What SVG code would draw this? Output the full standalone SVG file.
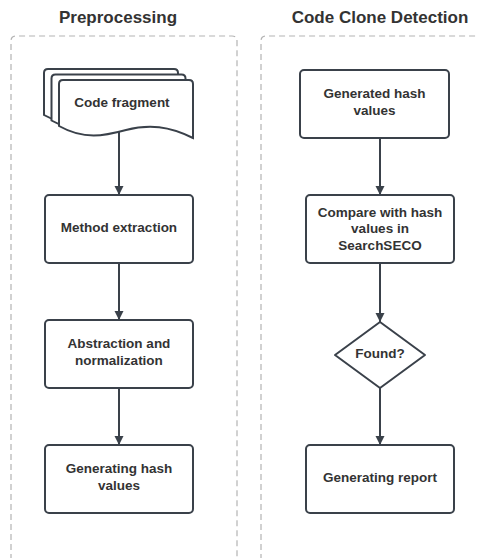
<svg xmlns="http://www.w3.org/2000/svg" width="478" height="558" viewBox="0 0 478 558">
<style>
.bg{fill:#ffffff}
.lane{fill:none;stroke:#b3b3b3;stroke-width:1.2;stroke-dasharray:6 4}
.title{font-family:"Liberation Sans",Arial,sans-serif;font-weight:bold;font-size:17px;fill:#333333;text-anchor:middle}
.box{fill:#ffffff;stroke:#3a414a;stroke-width:2}
.lbl{font-family:"Liberation Sans",Arial,sans-serif;font-weight:bold;font-size:13.5px;fill:#333333;text-anchor:middle}
.edge{fill:none;stroke:#3a414a;stroke-width:2}
</style>
<defs>
<marker id="arr" viewBox="0 0 10 10" refX="10" refY="5" markerWidth="4.5" markerHeight="5" markerUnits="strokeWidth" orient="auto">
<path d="M0,0 L10,5 L0,10 Z" fill="#3a414a"/>
</marker>
<path id="doc" d="M0,4 Q0,0 4,0 H130 Q134,0 134,4 V58 C110,46 90,44 67,50 C45,56 25,60 0,46 Z"/>
</defs>
<rect class="bg" x="0" y="0" width="478" height="558"/>
<g id="lane-preprocessing">
<path class="lane" d="M11,570 V41 Q11,36 16,36 H232 Q237,36 237,41 V570"/>
<text class="title" x="118" y="23">Preprocessing</text>
</g>
<g id="lane-detection">
<path class="lane" d="M261,570 V41 Q261,36 266,36 H490"/>
<text class="title" x="380" y="23">Code Clone Detection</text>
</g>
<g id="connectors">
<line class="edge" x1="119" y1="131" x2="119" y2="195" marker-end="url(#arr)"/>
<line class="edge" x1="119" y1="263" x2="119" y2="320" marker-end="url(#arr)"/>
<line class="edge" x1="119" y1="388" x2="119" y2="445" marker-end="url(#arr)"/>
<line class="edge" x1="380" y1="138" x2="380" y2="195" marker-end="url(#arr)"/>
<line class="edge" x1="380" y1="263" x2="380" y2="322" marker-end="url(#arr)"/>
<line class="edge" x1="380" y1="388" x2="380" y2="445" marker-end="url(#arr)"/>
</g>
<g id="code-fragment">
<use href="#doc" class="box" x="44" y="69"/>
<use href="#doc" class="box" x="51.5" y="74.5"/>
<use href="#doc" class="box" x="59" y="80"/>
<text class="lbl" x="122" y="107">Code fragment</text>
</g>
<g id="method-extraction">
<rect class="box" x="45" y="195" width="148" height="68" rx="4"/>
<text class="lbl" x="119" y="232">Method extraction</text>
</g>
<g id="abstraction">
<rect class="box" x="45" y="320" width="148" height="68" rx="4"/>
<text class="lbl" x="119" y="348">Abstraction and</text>
<text class="lbl" x="119" y="365">normalization</text>
</g>
<g id="generating-hash">
<rect class="box" x="45" y="445" width="148" height="68" rx="4"/>
<text class="lbl" x="119" y="473">Generating hash</text>
<text class="lbl" x="119" y="490">values</text>
</g>
<g id="generated-hash">
<rect class="box" x="300" y="70" width="149" height="68" rx="4"/>
<text class="lbl" x="374.5" y="98">Generated hash</text>
<text class="lbl" x="374.5" y="115">values</text>
</g>
<g id="compare">
<rect class="box" x="306" y="195" width="148" height="68" rx="4"/>
<text class="lbl" x="380" y="217">Compare with hash</text>
<text class="lbl" x="380" y="233">values in</text>
<text class="lbl" x="380" y="250">SearchSECO</text>
</g>
<g id="found">
<path class="box" stroke-linejoin="round" d="M380,322 L425,355 L380,388 L335,355 Z"/>
<text class="lbl" x="380" y="358">Found?</text>
</g>
<g id="generating-report">
<rect class="box" x="306" y="445" width="148" height="68" rx="4"/>
<text class="lbl" x="380" y="482">Generating report</text>
</g>
</svg>
